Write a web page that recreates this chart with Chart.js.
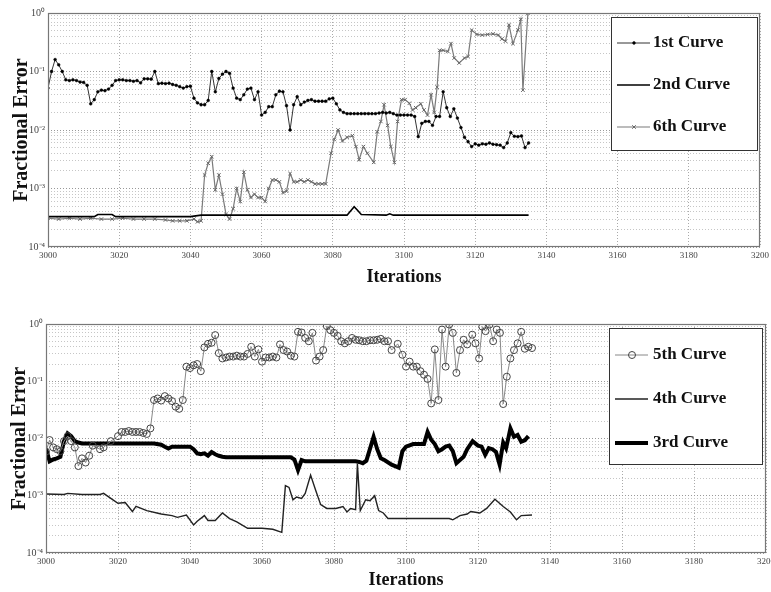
<!DOCTYPE html>
<html>
<head>
<meta charset="utf-8">
<script src="https://cdn.jsdelivr.net/npm/chart.js@4.4.0/dist/chart.umd.min.js"></script>
<style>
  html, body { margin: 0; padding: 0; background: #fff; }
  #wrap { position: relative; width: 771px; height: 592px; overflow: hidden; }
  canvas { position: absolute; left: 0; }
</style>
</head>
<body>
<div id="wrap">
  <canvas id="topChart" width="771" height="296" style="top:0"></canvas>
  <canvas id="bottomChart" width="771" height="296" style="top:296px"></canvas>
</div>
<script>
// ---- axis ticks ----
const xMin = 3000, xMax = 3200, xStep = 20;
const yTickLabels = ['10⁻⁴', '10⁻³', '10⁻²', '10⁻¹', '10⁰']; // exponents -4 .. 0

// ---- top panel ----
const curve1X = [
  3000,3001,3002,3003,3004,3005,3006,3007,3008,3009,
  3010,3011,3012,3013,3014,3015,3016,3017,3018,3019,
  3020,3021,3022,3023,3024,3025,3026,3027,3028,3029,
  3030,3031,3032,3033,3034,3035,3036,3037,3038,3039,
  3040,3041,3042,3043,3044,3045,3046,3047,3048,3049,
  3050,3051,3052,3053,3054,3055,3056,3057,3058,3059,
  3060,3061,3062,3063,3064,3065,3066,3067,3068,3069,
  3070,3071,3072,3073,3074,3075,3076,3077,3078,3079,
  3080,3081,3082,3083,3084,3085,3086,3087,3088,3089,
  3090,3091,3092,3093,3094,3095,3096,3097,3098,3099,
  3100,3101,3102,3103,3104,3105,3106,3107,3108,3109,
  3110,3111,3112,3113,3114,3115,3116,3117,3118,3119,
  3120,3121,3122,3123,3124,3125,3126,3127,3128,3129,
  3130,3131,3132,3133,3134,3135
];
const curve1Y = [
  0.052,0.1,0.16,0.13,0.1,0.072,0.07,0.072,0.07,0.066,
  0.065,0.058,0.028,0.033,0.045,0.048,0.047,0.05,0.058,0.07,
  0.072,0.072,0.07,0.07,0.068,0.07,0.064,0.075,0.075,0.074,
  0.1,0.062,0.063,0.062,0.063,0.06,0.058,0.055,0.052,0.055,
  0.056,0.035,0.029,0.027,0.027,0.032,0.1,0.045,0.076,0.09,
  0.1,0.093,0.052,0.035,0.033,0.04,0.05,0.052,0.033,0.045,
  0.018,0.02,0.025,0.025,0.04,0.046,0.045,0.026,0.01,0.027,
  0.037,0.027,0.03,0.032,0.033,0.031,0.031,0.031,0.031,0.034,
  0.035,0.028,0.022,0.02,0.019,0.019,0.019,0.019,0.019,0.019,
  0.019,0.019,0.019,0.0195,0.02,0.0195,0.02,0.019,0.018,0.018,
  0.018,0.018,0.018,0.017,0.0077,0.013,0.014,0.014,0.012,0.017,
  0.017,0.045,0.024,0.017,0.023,0.016,0.011,0.0075,0.0063,0.0052,
  0.0058,0.0055,0.0058,0.0057,0.006,0.0057,0.0056,0.0055,0.005,0.006,
  0.009,0.0078,0.0077,0.0079,0.005,0.006
];

const curve2X = [3000,3013,3014,3018,3019,3040,3043,3084,3086,3087,3088,3095,3096,3097,3135];
const curve2Y = [0.00033,0.00033,0.00036,0.00036,0.00033,0.00033,0.00035,0.00035,0.00049,0.00042,0.00036,0.00035,0.00037,0.00035,0.00035];

const curve6X = [
  3000,3003,3006,3009,3012,3015,3018,3021,3024,3027,
  3030,3033,3035,3037,3039,3041,3042,3043,3044,3045,
  3046,3047,3048,3049,3050,3051,3052,3053,3054,3055,
  3056,3057,3058,3059,3060,3061,3062,3063,3064,3065,
  3066,3067,3068,3069,3070,3071,3072,3073,3074,3075,
  3076,3077,3078,3079.5,3080.4,3081.5,3082.7,3084,3085.5,3086.5,
  3087.4,3088.6,3089.7,3091.5,3092.5,3093.5,3094.4,3095.4,3096.3,3097.3,
  3098.2,3099.3,3100.3,3101.5,3102.4,3103.3,3104.7,3105.6,3106.6,3107.6,
  3108.5,3109.3,3110,3111,3112.3,3113.2,3114.1,3115.5,3117,3118,
  3119,3120.5,3122,3123.5,3125,3126.5,3127.5,3128.5,3129.5,3130.6,
  3132,3132.8,3133.4,3134.8
];
const curve6Y = [
  0.00031,0.0003,0.00031,0.0003,0.00031,0.0003,0.0003,0.00031,0.0003,0.0003,
  0.0003,0.00029,0.00028,0.00028,0.00028,0.0003,0.00027,0.00028,0.0017,0.0027,
  0.0035,0.00095,0.0017,0.0008,0.00036,0.0003,0.00045,0.001,0.0006,0.0019,
  0.00095,0.0007,0.0008,0.0007,0.0007,0.0006,0.001,0.0014,0.0014,0.0013,
  0.00085,0.0009,0.0018,0.0013,0.0013,0.0014,0.0013,0.0014,0.0013,0.0012,
  0.0012,0.0012,0.0012,0.004,0.0069,0.01,0.0065,0.0075,0.008,0.0052,
  0.0031,0.0052,0.004,0.0028,0.0093,0.014,0.027,0.012,0.0052,0.0028,
  0.014,0.033,0.033,0.0286,0.022,0.024,0.028,0.022,0.018,0.04,
  0.02,0.054,0.23,0.23,0.22,0.3,0.17,0.14,0.17,0.18,
  0.51,0.43,0.42,0.43,0.44,0.42,0.36,0.33,0.62,0.3,
  0.51,0.78,0.048,0.99
];

// ---- bottom panel ----
const curve5X = [
  3000,3001,3002,3003,3004,3005,3006,3007,3008,3009,
  3010,3011,3012,3013,3015,3016,3018,
  3020,3021,3022,3023,3024,3025,3026,3027,3028,3029,
  3030,3031,3032,3033,3034,3035,3036,3037,3038,3039,
  3040,3041,3042,3043,3044,3045,3046,3047,3048,3049,
  3050,3051,3052,3053,3054,3055,3056,3057,3058,3059,
  3060,3061,3062,3063,3064,3065,3066,3067,3068,3069,
  3070,3071,3072,3073,3074,3075,3076,3077,3078,3079,
  3080,3081,3082,3083,3084,3085,3086,3087,3088,3089,
  3090,3091,3092,3093,3094,3095,3096,3097.7,
  3099,3100,3101,3102,3103,3104,3105,3106,3107,3108,
  3109,3110,3111,3112,3113,3114,3115,3116,3117,
  3118.4,3119.3,3120.3,3121.2,3122.1,3123.2,3124.2,3125.2,3126.1,
  3127,3128,3129,3130,3131,3132,3133,3134,3135
];
const curve5Y = [
  0.0059,0.0094,0.007,0.0065,0.006,0.009,0.011,0.009,0.007,0.0033,
  0.0045,0.0038,0.005,0.0075,0.0065,0.007,0.009,
  0.011,0.013,0.013,0.0135,0.013,0.013,0.013,0.0125,0.012,0.015,
  0.047,0.05,0.046,0.055,0.05,0.045,0.036,0.033,0.047,0.18,
  0.17,0.19,0.2,0.15,0.39,0.45,0.47,0.64,0.31,0.25,
  0.26,0.27,0.27,0.28,0.27,0.27,0.3,0.4,0.27,0.36,
  0.22,0.26,0.26,0.27,0.26,0.44,0.35,0.33,0.28,0.27,
  0.73,0.71,0.57,0.5,0.7,0.23,0.27,0.35,0.92,0.78,
  0.7,0.62,0.5,0.46,0.5,0.57,0.53,0.52,0.5,0.5,
  0.52,0.52,0.53,0.55,0.5,0.5,0.35,0.45,
  0.29,0.18,0.22,0.18,0.18,0.15,0.13,0.11,0.041,0.36,
  0.047,0.8,0.18,0.98,0.7,0.14,0.35,0.53,0.44,
  0.65,0.46,0.25,0.9,0.75,0.98,0.5,0.8,0.7,
  0.04,0.12,0.25,0.35,0.46,0.73,0.37,0.4,0.38
];

const curve4X = [
  3000,3005,3006,3010,3015,3016,3018,3020,3022,3024,
  3025,3028,3032,3035,3036.5,3039,3041,3042,3044,3045,
  3047,3049,3051,3053,3056,3060,3063,3065.5,3066.5,3067.5,
  3068.6,3069.6,3071,3072,3073.5,3075,3076.3,3078,3080.5,3082.5,
  3083.6,3084.6,3086,3086.5,3087.3,3088.8,3090,3091.3,3092.4,3093.7,
  3095,3100,3105,3112,3113,3115,3117,3118,3120.5,3122.4,
  3124.7,3127,3129,3130.7,3132,3135
];
const curve4Y = [
  0.00107,0.00105,0.0011,0.00105,0.00105,0.0011,0.0009,0.00074,0.00076,0.00053,
  0.00065,0.00055,0.00048,0.00045,0.00042,0.00046,0.00031,0.00036,0.00045,0.00037,
  0.00037,0.0005,0.0004,0.00035,0.00027,0.00027,0.00026,0.00023,0.0015,0.0014,
  0.00085,0.00095,0.0009,0.0011,0.0023,0.0012,0.0007,0.0006,0.0006,0.00065,
  0.00052,0.0006,0.00057,0.0036,0.00055,0.00085,0.00082,0.001,0.00055,0.0005,
  0.0004,0.0004,0.0004,0.0004,0.00038,0.00045,0.00048,0.00053,0.0005,0.0006,
  0.00087,0.00065,0.00052,0.00038,0.00045,0.00046
];

const curve3X = [
  3000,3001,3002,3003,3004,3005,3006,3007,3008,3009,3010,
  3020,3030,3032,3033,3034,3035,
  3040,3041,3042,3043,3044,3045,3046,3047,3048,3049,3050,
  3060,3068,3069,3070,3071,3072,3086,3087,3088,3089,
  3091,3092,3093,3094,3096,3098,3099,3100,3102,
  3105,3106,3107,3108,3109,3110,3111,3112,3113,3114,
  3116,3117,3118.5,3120,3121,3122,3123,3124,3125,3126,3127,
  3127.8,3128.5,3129,3130,3131,3132,3133,3134
];
const curve3Y = [
  0.0067,0.004,0.0043,0.0045,0.0048,0.009,0.0123,0.011,0.009,0.0085,0.0082,
  0.0082,0.0082,0.0078,0.0072,0.0067,0.0072,
  0.0072,0.0065,0.0055,0.0053,0.0055,0.005,0.0058,0.0053,0.005,0.0048,0.0047,
  0.0047,0.0047,0.0043,0.0028,0.0042,0.004,0.004,0.0039,0.0037,0.0041,
  0.0107,0.0065,0.0045,0.0042,0.0035,0.0031,0.006,0.0072,0.008,
  0.008,0.013,0.0095,0.008,0.006,0.0065,0.0072,0.0075,0.006,0.0037,
  0.0048,0.0065,0.009,0.0075,0.0072,0.0052,0.0068,0.0065,0.0058,0.0035,0.0085,
  0.0068,0.0107,0.015,0.0107,0.0115,0.0088,0.0093,0.011
];

// ---- helpers ----
const pts = (xs, ys) => xs.map((x, i) => ({ x: x, y: ys[i] }));
const serif = '"Liberation Serif", "Times New Roman", serif';

// grid lines at 1..9 x 10^k like a matlab log axis
const yGrid = [];
for (let e = -4; e < 0; e++) {
  for (let m = 1; m < 10; m++) yGrid.push(m * Math.pow(10, e));
}
yGrid.push(1);

function isDecade(v) {
  const l = Math.log10(v);
  return Math.abs(l - Math.round(l)) < 1e-6;
}

// plot frame
const framePlugin = {
  id: 'frame',
  afterDraw(chart) {
    const { ctx, chartArea: a } = chart;
    ctx.save();
    ctx.strokeStyle = '#777';
    ctx.lineWidth = 1.2;
    ctx.strokeRect(a.left + 0.5, a.top + 0.5, a.width - 1, a.height - 1);
    ctx.restore();
  }
};

// boxed legend sitting inside the plot, top right
const boxLegend = {
  id: 'boxLegend',
  afterDraw(chart, args, o) {
    const { ctx, chartArea: a } = chart;
    const x0 = a.right - o.right - o.width;
    const y0 = a.top + o.top;
    ctx.save();
    ctx.fillStyle = '#fff';
    ctx.fillRect(x0, y0, o.width, o.height);
    ctx.strokeStyle = '#333';
    ctx.lineWidth = 1;
    ctx.strokeRect(x0 + 0.5, y0 + 0.5, o.width, o.height);
    ctx.font = 'bold 17px ' + serif;
    ctx.textBaseline = 'middle';
    chart.data.datasets.forEach((ds, i) => {
      const y = y0 + o.firstRow + i * o.rowGap;
      ctx.strokeStyle = ds.borderColor;
      ctx.lineWidth = ds.borderWidth;
      ctx.beginPath();
      ctx.moveTo(x0 + 6, y);
      ctx.lineTo(x0 + 39, y);
      ctx.stroke();
      if (ds.pointRadius > 0) {
        ctx.strokeStyle = ds.pointBorderColor;
        ctx.fillStyle = ds.pointBackgroundColor;
        ctx.lineWidth = ds.pointBorderWidth;
        Chart.helpers.drawPoint(ctx, { pointStyle: ds.pointStyle, radius: ds.pointRadius, borderWidth: ds.pointBorderWidth, rotation: 0 }, x0 + 23, y);
      }
      ctx.fillStyle = '#111';
      ctx.fillText(ds.label, x0 + o.textX, y);
    });
    ctx.restore();
  }
};

function makeScales(yWidth, xHeight, yTitlePad, xTitlePad) {
  return {
    x: {
      type: 'linear',
      min: xMin,
      max: xMax,
      afterFit: s => { s.height = xHeight; s.paddingLeft = 0; s.paddingRight = 0; },
      ticks: { stepSize: xStep, padding: 3, color: '#444', font: { family: serif, size: 9 }, callback: v => String(v) },
      grid: { color: '#aaa', drawTicks: false, borderDash: [1, 2] },
      border: { display: false, dash: [1, 2] },
      title: { display: true, text: 'Iterations', color: '#111', font: { family: serif, size: 18, weight: 'bold' }, padding: { top: 0, bottom: xTitlePad } }
    },
    y: {
      type: 'logarithmic',
      min: 1e-4,
      max: 1,
      afterBuildTicks: s => { s.ticks = yGrid.map(v => ({ value: v })); },
      afterFit: s => { s.width = yWidth; },
      ticks: {
        autoSkip: false,
        padding: 3,
        color: '#444',
        font: { family: serif, size: 10 },
        callback: v => isDecade(v) ? yTickLabels[Math.round(Math.log10(v)) + 4] : ''
      },
      grid: {
        color: c => isDecade(c.tick.value) ? '#999' : '#c6c6c6',
        drawTicks: false,
        borderDash: [1, 2]
      },
      border: { display: false, dash: [1, 2] },
      title: { display: true, text: 'Fractional Error', color: '#111', font: { family: serif, size: 20, weight: 'bold' }, padding: { top: yTitlePad, bottom: 0 } }
    }
  };
}

// ---- top chart ----
new Chart(document.getElementById('topChart'), {
  type: 'line',
  data: {
    datasets: [
      {
        label: '1st Curve', data: pts(curve1X, curve1Y),
        borderColor: '#333', borderWidth: 1,
        pointStyle: 'circle', pointRadius: 1.4, pointBorderWidth: 0.5,
        pointBackgroundColor: '#000', pointBorderColor: '#000'
      },
      {
        label: '2nd Curve', data: pts(curve2X, curve2Y),
        borderColor: '#000', borderWidth: 1.6, pointRadius: 0
      },
      {
        label: '6th Curve', data: pts(curve6X, curve6Y),
        borderColor: '#7a7a7a', borderWidth: 1.2,
        pointStyle: 'crossRot', pointRadius: 2.5, pointBorderWidth: 1,
        pointBackgroundColor: '#666', pointBorderColor: '#666'
      }
    ]
  },
  options: {
    responsive: false,
    animation: false,
    layout: { padding: { left: 0, right: 11, top: 13, bottom: 0 } },
    scales: makeScales(48, 49, 10, 8),
    plugins: {
      legend: { display: false },
      tooltip: { enabled: false },
      boxLegend: { right: 3, top: 4, width: 146, height: 133, firstRow: 26, rowGap: 42, textX: 42 }
    }
  },
  plugins: [framePlugin, boxLegend]
});

// ---- bottom chart ----
new Chart(document.getElementById('bottomChart'), {
  type: 'line',
  data: {
    datasets: [
      {
        label: '5th Curve', data: pts(curve5X, curve5Y),
        borderColor: '#888', borderWidth: 1,
        pointStyle: 'circle', pointRadius: 3.5, pointBorderWidth: 1,
        pointBackgroundColor: 'rgba(255,255,255,0)', pointBorderColor: '#444'
      },
      {
        label: '4th Curve', data: pts(curve4X, curve4Y),
        borderColor: '#222', borderWidth: 1.4, pointRadius: 0
      },
      {
        label: '3rd Curve', data: pts(curve3X, curve3Y),
        borderColor: '#000', borderWidth: 4, pointRadius: 0
      }
    ]
  },
  options: {
    responsive: false,
    animation: false,
    layout: { padding: { left: 0, right: 5, top: 28, bottom: 0 } },
    scales: makeScales(46, 39, 8, 1),
    plugins: {
      legend: { display: false },
      tooltip: { enabled: false },
      boxLegend: { right: 4, top: 4, width: 153, height: 136, firstRow: 27, rowGap: 44, textX: 44 }
    }
  },
  plugins: [framePlugin, boxLegend]
});
</script>
</body>
</html>
